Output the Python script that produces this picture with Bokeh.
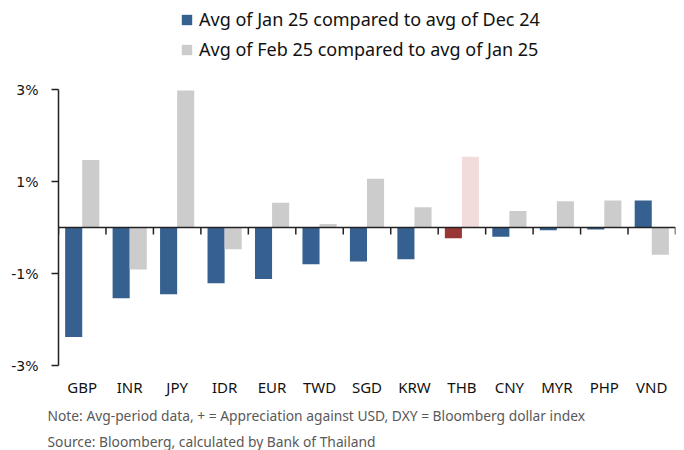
from bokeh.plotting import figure
from bokeh.models import (ColumnDataSource, Range1d, Span, Legend, LegendItem,
                          FixedTicker, PrintfTickFormatter, Title)
from bokeh.transform import dodge
from bokeh.embed import file_html
from bokeh.resources import INLINE

cats = ["GBP", "INR", "JPY", "IDR", "EUR", "TWD", "SGD", "KRW", "THB", "CNY", "MYR", "PHP", "VND"]
jan_vs_dec = [-2.38, -1.54, -1.45, -1.21, -1.12, -0.80, -0.74, -0.69, -0.23, -0.20, -0.06, -0.04, 0.59]
feb_vs_jan = [1.47, -0.91, 2.98, -0.47, 0.54, 0.08, 1.06, 0.44, 1.54, 0.36, 0.57, 0.59, -0.59]
y_ticks = [-3, -1, 1, 3]
series_names = ["Avg of Jan 25 compared to avg of Dec 24", "Avg of Feb 25 compared to avg of Jan 25"]

BLUE = "#36608f"
GRAY = "#cccccc"
RED = "#983735"
PINK = "#f2dcdb"

n = len(cats)
centers = [i + 0.5 for i in range(n)]
c1 = [RED if c == "THB" else BLUE for c in cats]
c2 = [PINK if c == "THB" else GRAY for c in cats]

src = ColumnDataSource(dict(x=centers, a=jan_vs_dec, b=feb_vs_jan, c1=c1, c2=c2))

# y range extends above 3% to leave room for the legend inside the frame
p = figure(width=684, height=450, x_range=Range1d(0, n), y_range=Range1d(-3, 4.83),
           output_backend="svg", toolbar_location=None,
           min_border_left=58, min_border_right=9, min_border_top=5, min_border_bottom=0)
p.outline_line_color = None
p.xgrid.grid_line_color = None
p.ygrid.grid_line_color = None

r1 = p.vbar(x=dodge("x", -0.18), top="a", width=0.36, source=src,
            fill_color="c1", line_color=None)
r2 = p.vbar(x=dodge("x", 0.18), top="b", width=0.36, source=src,
            fill_color="c2", line_color=None)

# zero line and category boundary ticks
p.add_layout(Span(location=0, dimension="width", line_color="#222222", line_width=1.5))
bx = list(range(n + 1))
p.segment(x0=bx, x1=bx, y0=[0] * len(bx), y1=[-0.15] * len(bx), line_color="#222222", line_width=1.5)

# y axis
ya = p.yaxis[0]
ya.bounds = (-3, 3)
ya.ticker = FixedTicker(ticks=y_ticks)
ya.formatter = PrintfTickFormatter(format="%d%%")
ya.axis_line_color = "#222222"
ya.axis_line_width = 1.5
ya.major_tick_line_color = "#222222"
ya.major_tick_line_width = 1.5
ya.major_tick_out = 7
ya.major_tick_in = 0
ya.minor_tick_line_color = None
ya.major_label_text_font = "DejaVu Sans"
ya.major_label_text_font_size = "14px"
ya.major_label_text_color = "#111111"
ya.major_label_standoff = 13

# x axis (labels only)
xa = p.xaxis[0]
xa.ticker = FixedTicker(ticks=centers)
xa.major_label_overrides = {c: lab for c, lab in zip(centers, cats)}
xa.axis_line_color = None
xa.major_tick_line_color = None
xa.major_tick_out = 0
xa.major_tick_in = 0
xa.minor_tick_line_color = None
xa.major_label_text_font = "Noto Sans"
xa.major_label_text_font_size = "15px"
xa.major_label_text_color = "#111111"
xa.major_label_standoff = 11

legend = Legend(items=[LegendItem(label=series_names[0], renderers=[r1], index=0),
                       LegendItem(label=series_names[1], renderers=[r2], index=1)],
                orientation="vertical", location=(122, 304),
                label_text_font="Noto Sans", label_text_font_size="18px",
                label_text_color="#111111", glyph_width=13, glyph_height=13,
                label_standoff=6, label_height=20,
                spacing=6, padding=0, margin=0,
                border_line_color=None, background_fill_alpha=0)
p.add_layout(legend, "center")

note_title = Title(text="Note: Avg-period data, + = Appreciation against USD, DXY = Bloomberg dollar index",
                   align="left", text_font="Noto Sans", text_font_size="13.8px",
                   text_font_style="normal", text_color="#595959", offset=-11, standoff=9)
src_title = Title(text="Source: Bloomberg, calculated by Bank of Thailand", align="left",
                  text_font="Noto Sans", text_font_size="13.8px", text_font_style="normal",
                  text_color="#595959", offset=-11, standoff=0)
p.add_layout(note_title, "below")
p.add_layout(src_title, "below")

open("out.html", "w").write(file_html(p, INLINE))
